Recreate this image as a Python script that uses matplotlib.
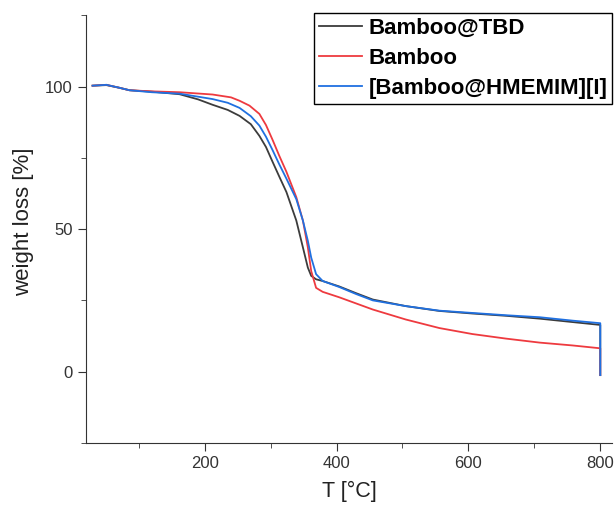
import numpy as np
import matplotlib.pyplot as plt
from matplotlib.ticker import MultipleLocator

plt.rcParams['font.family'] = ['Liberation Sans', 'DejaVu Sans']

# TGA curves (T in degC, weight in %)
t_tbd = [30, 51, 70, 86, 120, 162, 190, 212, 235, 253, 270, 283, 293, 303,
         313, 324, 339, 349, 356.5, 361.6, 369, 379, 404, 430, 455, 505,
         556, 606, 657, 708, 758, 800, 800]
w_tbd = [100.3, 100.5, 99.6, 98.7, 98.2, 97.3, 95.5, 93.6, 91.8, 89.7, 86.8,
         82.7, 78.8, 73.6, 68.5, 63.0, 53.0, 43.6, 36.5, 33.6, 32.4, 31.8,
         29.9, 27.5, 25.3, 23.0, 21.3, 20.4, 19.6, 18.6, 17.4, 16.4, -1.2]

t_bamboo = [30, 51, 70, 86, 120, 162, 212, 240, 253, 268, 283, 293, 303, 313,
            324, 339, 349, 356.5, 361.6, 369, 379, 404, 455, 505, 556, 606,
            657, 708, 758, 800, 800]
w_bamboo = [100.3, 100.6, 99.6, 98.7, 98.3, 98.0, 97.2, 96.2, 95.0, 93.3,
            90.4, 86.5, 81.3, 75.8, 70.1, 61.2, 53.0, 43.6, 35.3, 29.4, 28.0,
            26.1, 21.8, 18.3, 15.3, 13.2, 11.6, 10.2, 9.2, 8.2, -1.2]

t_hmemim = [30, 51, 70, 86, 120, 162, 212, 235, 253, 270, 283, 293, 303, 313,
            324, 339, 349, 356.5, 361.6, 369, 379, 404, 430, 455, 505, 556,
            606, 657, 708, 758, 800, 800]
w_hmemim = [100.3, 100.6, 99.6, 98.7, 98.0, 97.5, 95.6, 94.3, 92.5, 89.6,
            86.3, 82.4, 77.7, 72.8, 67.7, 60.5, 53.0, 45.9, 40.0, 34.2, 31.8,
            29.7, 27.2, 25.0, 23.0, 21.4, 20.6, 19.8, 19.1, 17.9, 17.0, -1.2]

labels = ['Bamboo@TBD', 'Bamboo', '[Bamboo@HMEMIM][I]']

fig = plt.figure(figsize=(6.14, 5.08), dpi=100)
ax = fig.add_axes([0.140, 0.128, 0.857, 0.842])

ax.plot(t_tbd, w_tbd, color='#3c3c3c', lw=1.3, label=labels[0])
ax.plot(t_bamboo, w_bamboo, color='#ee3a3f', lw=1.3, label=labels[1])
ax.plot(t_hmemim, w_hmemim, color='#2070e0', lw=1.3, label=labels[2])

ax.set_xlim(20, 818)
ax.set_ylim(-25, 125)
ax.set_xticks([200, 400, 600, 800])
ax.set_yticks([0, 50, 100])
ax.xaxis.set_minor_locator(MultipleLocator(100))
ax.yaxis.set_minor_locator(MultipleLocator(25))
ax.tick_params(which='major', length=6, labelsize=12, colors='#333333')
ax.tick_params(which='minor', length=3.5, color='#333333')
for s in ['top', 'right']:
    ax.spines[s].set_visible(False)
for s in ['left', 'bottom']:
    ax.spines[s].set_color('#333333')

ax.set_xlabel('T [°C]', fontsize=15.5, color='#222222', labelpad=7)
ax.set_ylabel('weight loss [%]', fontsize=16, color='#222222')
ax.yaxis.set_label_coords(-0.099, 0.517)

leg = ax.legend(loc='upper right', bbox_to_anchor=(1.0, 1.005), fancybox=False,
                edgecolor='black', framealpha=1, borderpad=0.2,
                borderaxespad=0, handlelength=1.95, handletextpad=0.3,
                labelspacing=0.42, prop={'weight': 'bold', 'size': 16})
leg.get_frame().set_linewidth(1.0)

fig.savefig('out.png', dpi=100)
